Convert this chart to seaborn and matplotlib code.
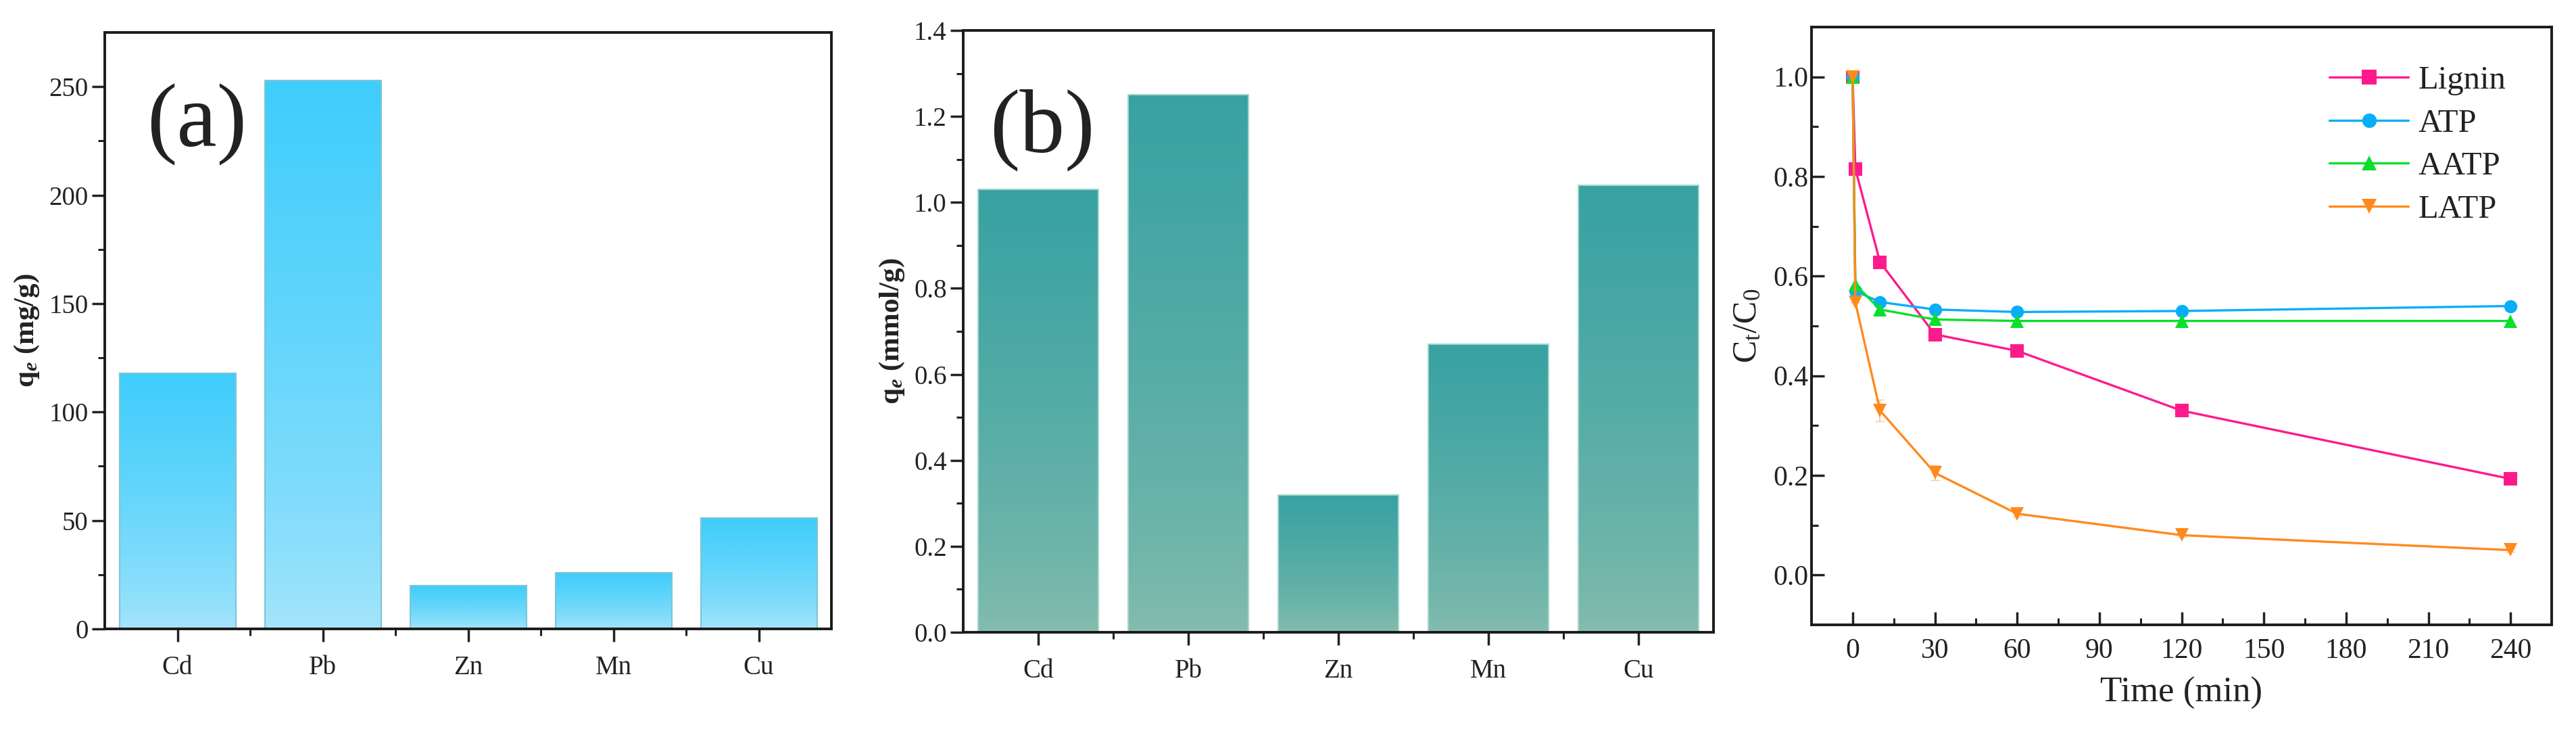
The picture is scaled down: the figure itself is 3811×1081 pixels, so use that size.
import numpy as np
import pandas as pd
import matplotlib
matplotlib.use("Agg")
import matplotlib.pyplot as plt
from matplotlib.colors import LinearSegmentedColormap
import seaborn as sns

# ---- data ----
metals = ["Cd", "Pb", "Zn", "Mn", "Cu"]
qe_mg = [118, 253, 20, 26, 51]
qe_mmol = [1.03, 1.25, 0.32, 0.67, 1.04]

time_min = [0, 1, 10, 30, 60, 120, 240]
lignin = [1.00, 0.815, 0.628, 0.483, 0.450, 0.330, 0.193]
atp = [1.00, 0.570, 0.548, 0.533, 0.528, 0.530, 0.540]
aatp = [1.00, 0.583, 0.533, 0.513, 0.510, 0.510, 0.510]
latp = [1.00, 0.547, 0.330, 0.205, 0.123, 0.080, 0.050]
latp_err = [0, 0, 0.022, 0.015, 0.006, 0.004, 0.004]

series_names = ["Lignin", "ATP", "AATP", "LATP"]
series_colors = {"Lignin": "#FF1A8C", "ATP": "#08AEF7", "AATP": "#0ADF2A", "LATP": "#FF8A1C"}
series_markers = {"Lignin": "s", "ATP": "o", "AATP": "^", "LATP": "v"}

# ---- style ----
sns.set_theme(style="ticks")
plt.rcParams["font.family"] = ["Liberation Serif", "DejaVu Serif"]
plt.rcParams["mathtext.fontset"] = "custom"
plt.rcParams["mathtext.rm"] = "Liberation Serif"
plt.rcParams["mathtext.it"] = "Liberation Serif:italic"
plt.rcParams["mathtext.bf"] = "Liberation Serif:bold:italic"
plt.rcParams["text.color"] = "#222222"
plt.rcParams["axes.labelcolor"] = "#222222"
plt.rcParams["xtick.color"] = "#222222"
plt.rcParams["ytick.color"] = "#222222"

fig = plt.figure(figsize=(38.11, 10.81), dpi=100)
ax_a = fig.add_axes([155 / 3811, 1 - 930 / 1081, 1075 / 3811, 882 / 1081])
ax_b = fig.add_axes([1425 / 3811, 1 - 935 / 1081, 1110 / 3811, 890 / 1081])
ax_c = fig.add_axes([2680 / 3811, 1 - 924 / 1081, 1095 / 3811, 884 / 1081])

TICK_FS = 28


def gradient_bars(ax, top_color, bottom_color, edge_color):
    cmap = LinearSegmentedColormap.from_list("g", [bottom_color, top_color])
    grad = np.linspace(0, 1, 256).reshape(-1, 1) ** 0.7
    for p in ax.patches:
        x, w, h = p.get_x(), p.get_width(), p.get_height()
        im = ax.imshow(grad, cmap=cmap, origin="lower", aspect="auto",
                       extent=[x, x + w, 0, h], zorder=1, interpolation="bicubic")
        im.set_clip_path(p)
        p.set_facecolor("none")
        p.set_edgecolor(edge_color)
        p.set_linewidth(1.5)
        p.set_zorder(2)


def style_bar_axes(ax):
    for s in ax.spines.values():
        s.set_linewidth(2.8)
        s.set_color("#1a1a1a")
    ax.tick_params(axis="both", which="major", direction="out", length=14, width=2.5,
                   labelsize=TICK_FS, top=False, right=False)
    ax.tick_params(axis="both", which="minor", direction="out", length=7, width=2.2,
                   top=False, right=False)
    ax.set_xlim(-0.5, 4.5)
    ax.set_xticks(np.arange(0.5, 4.5, 1.0), minor=True)
    ax.set_xlabel("")
    ax.tick_params(axis="x", pad=14)


# ---- (a) ----
df_a = pd.DataFrame({"metal": metals, "qe": qe_mg})
sns.barplot(data=df_a, x="metal", y="qe", ax=ax_a, width=0.8, color="#41CEFB")
gradient_bars(ax_a, "#3FCDFB", "#A8E5FB", "#7CC6D2")
style_bar_axes(ax_a)
ax_a.set_ylim(0, 275)
ax_a.set_yticks([0, 50, 100, 150, 200, 250])
ax_a.set_yticks(np.arange(25, 275, 50), minor=True)
ax_a.set_ylabel(r"q$_\mathbf{e}$ (mg/g)", fontsize=31, fontweight="bold", labelpad=8)
ax_a.text(0.058, 0.845, "(a)", transform=ax_a.transAxes, fontsize=96,
          ha="left", va="center")

# ---- (b) ----
df_b = pd.DataFrame({"metal": metals, "qe": qe_mmol})
sns.barplot(data=df_b, x="metal", y="qe", ax=ax_b, width=0.8, color="#3AA3A3")
gradient_bars(ax_b, "#38A2A2", "#86BDAE", "#A6D6CE")
style_bar_axes(ax_b)
ax_b.set_ylim(0, 1.4)
ax_b.set_yticks(np.arange(0, 1.41, 0.2))
ax_b.set_yticklabels([f"{v:.1f}" for v in np.arange(0, 1.41, 0.2)])
ax_b.set_yticks(np.arange(0.1, 1.4, 0.2), minor=True)
ax_b.set_ylabel(r"q$_\mathbf{e}$ (mmol/g)", fontsize=31, fontweight="bold", labelpad=8)
ax_b.text(0.035, 0.835, "(b)", transform=ax_b.transAxes, fontsize=96,
          ha="left", va="center")

# ---- (c) ----
kin = pd.DataFrame({
    "time": time_min * 4,
    "ratio": lignin + atp + aatp + latp,
    "material": [n for n in series_names for _ in time_min],
})
sns.lineplot(data=kin, x="time", y="ratio", hue="material", style="material",
             hue_order=series_names, style_order=series_names,
             palette=series_colors, markers=series_markers, dashes=False,
             markersize=14, markeredgewidth=0, linewidth=2.4, ax=ax_c, zorder=3)
ax_c.errorbar(time_min, latp, yerr=latp_err, fmt="none", ecolor="#FFC79A",
              elinewidth=1.5, capsize=5, zorder=2)

for s in ax_c.spines.values():
    s.set_linewidth(2.8)
    s.set_color("#1a1a1a")
ax_c.set_xlim(-15, 255)
ax_c.set_ylim(-0.1, 1.1)
ax_c.set_xticks(np.arange(0, 241, 30))
ax_c.set_xticks(np.arange(15, 241, 30), minor=True)
ax_c.set_yticks(np.arange(0, 1.01, 0.2))
ax_c.set_yticklabels([f"{v:.1f}" for v in np.arange(0, 1.01, 0.2)])
ax_c.set_yticks(np.arange(0.1, 1.0, 0.2), minor=True)
ax_c.tick_params(axis="both", which="major", direction="in", length=14, width=2.5,
                 labelsize=30, top=False, right=False)
ax_c.tick_params(axis="both", which="minor", direction="in", length=7, width=2.2,
                 top=False, right=False)
ax_c.tick_params(axis="x", pad=14)
ax_c.set_xlabel("Time (min)", fontsize=38, labelpad=14)
ax_c.set_ylabel(r"C$_\mathrm{t}$/C$_0$", fontsize=36, labelpad=10)
ax_c.legend(loc="upper left", bbox_to_anchor=(0.70, 0.935), frameon=False,
            fontsize=35, handlelength=2.4, handletextpad=0.3, labelspacing=0.4,
            borderaxespad=0, borderpad=0, markerscale=1.1)

fig.savefig("out.png", dpi=100)
